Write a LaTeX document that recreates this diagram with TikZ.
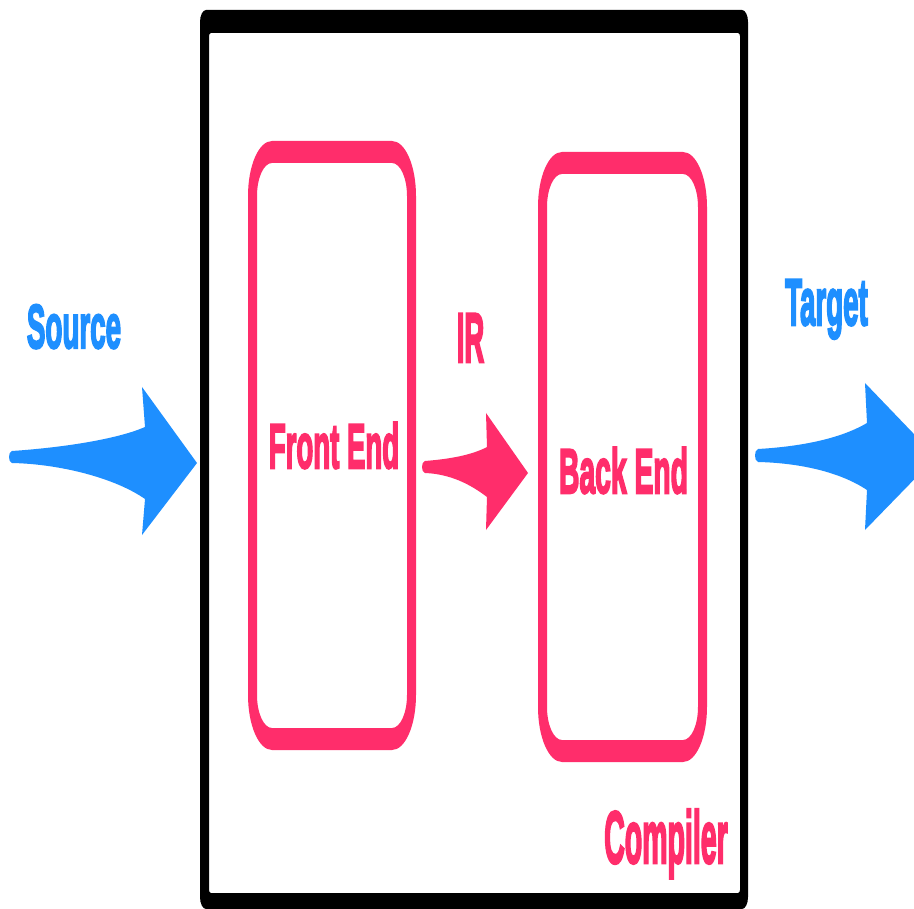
\documentclass[tikz,border=0pt]{standalone}
\usepackage{graphicx}
\usepackage{fontspec}
\newfontfamily\labfont{Liberation Sans Bold}[FakeBold=4]
\definecolor{pinkc}{HTML}{FF2D6B}
\definecolor{bluec}{HTML}{1E8FFF}
% rounded rectangle with elliptical corners, image coordinates (y down)
\def\rrect#1#2#3#4#5#6{({#1+#5},#2) -- ({#3-#5},#2)
  arc[start angle=270,end angle=360,x radius=#5,y radius=#6] -- (#3,{#4-#6})
  arc[start angle=0,end angle=90,x radius=#5,y radius=#6] -- ({#1+#5},#4)
  arc[start angle=90,end angle=180,x radius=#5,y radius=#6] -- (#1,{#2+#6})
  arc[start angle=180,end angle=270,x radius=#5,y radius=#6] -- cycle}
\newcommand\lbl[3]{\scalebox{#1}[#2]{\fontsize{10}{12}\selectfont\labfont #3}}
\begin{document}
\begin{tikzpicture}[x=1pt,y=-1pt,
  lab/.style={inner sep=0pt, anchor=base},
  bluelab/.style={lab, text=bluec},
  pinklab/.style={lab, text=pinkc}]
\useasboundingbox (0,0) rectangle (914,909);
\fill[white] (0,0) rectangle (914,909);
% compiler frame
\fill[black, even odd rule] \rrect{200}{10}{748}{909}{6}{12} \rrect{209}{33}{740}{893}{2}{3};
% front end / back end boxes
\fill[pinkc, even odd rule] \rrect{248}{141}{416}{750}{24}{55} \rrect{257}{163}{407}{728}{15}{33};
\fill[pinkc, even odd rule] \rrect{538}{152}{707}{762}{24}{55} \rrect{547}{174}{698}{740}{15}{33};
% arrows
\fill[bluec] (12,451) .. controls (70,447) and (120,438) .. (145,427) -- (142,387) -- (197,463)
  -- (142,535) -- (145,499) .. controls (115,478) and (60,464) .. (12,463)
  .. controls (8,462) and (8,452) .. (12,451) -- cycle;
\fill[pinkc] (425,461) .. controls (450,459) and (472,455) .. (487,447) -- (486,413) -- (528,473)
  -- (486,530) -- (487,497) .. controls (470,484) and (450,474) .. (425,473)
  .. controls (421,472) and (421,462) .. (425,461) -- cycle;
\begin{scope}
\clip (0,0) rectangle (914,909);
\fill[bluec] (758,449) .. controls (810,446) and (845,436) .. (867,423) -- (865,383) -- (936,457)
  -- (865,530) -- (867,490) .. controls (840,472) and (800,463) .. (758,462)
  .. controls (754,461) and (754,450) .. (758,449) -- cycle;
\end{scope}
% labels
\node[bluelab] (source) at (74,348) {\lbl{2.78}{6.2}{Source}};
\node[bluelab] (target) at (826.5,325) {\lbl{2.77}{6.6}{Target}};
\node[pinklab] (front) at (334,468) {\lbl{2.76}{6.3}{Front End}};
\node[pinklab] (back) at (623.5,493) {\lbl{2.83}{6.3}{Back End}};
\node[pinklab] (ir) at (470.5,362) {\lbl{2.75}{7.0}{IR}};
\node[pinklab] (compiler) at (666,863) {\lbl{2.85}{7.4}{Compiler}};
\end{tikzpicture}
\end{document}
